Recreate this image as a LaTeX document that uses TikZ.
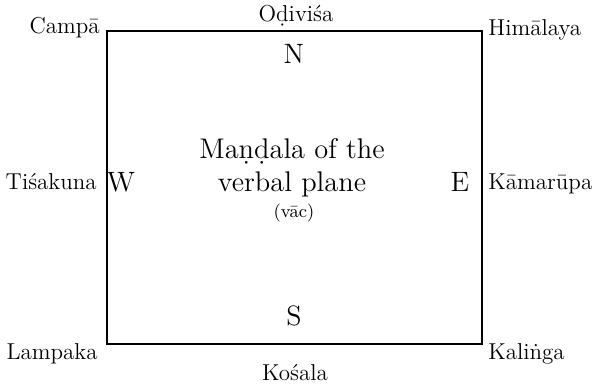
\documentclass[tikz,border=0pt]{standalone}
\usepackage{tikz}

\begin{document}
\begin{tikzpicture}[x=0.5pt, y=-0.5pt,
  frame/.style={draw, line width=1pt},
  place/.style={font=\fontsize{11.5}{13}\selectfont, inner sep=0pt},
  dir/.style={font=\fontsize{14}{16}\selectfont, inner sep=0pt},
  title/.style={font=\fontsize{14.2}{16}\selectfont, inner sep=0pt}
]

\useasboundingbox (0,0) rectangle (595,388);

% square of the mandala
\coordinate (nw) at (107,31);
\coordinate (se) at (482,344);
\draw[frame] (nw) rectangle (se);

% places at the corners
\node[place, anchor=base east] (campa)    at (100,33)  {Campā};
\node[place, anchor=base west] (himalaya) at (488,35)  {Himālaya};
\node[place, anchor=base east] (lampaka)  at (98,359)  {Lampaka};
\node[place, anchor=base west] (kalinga)  at (488,359) {Kaliṅga};

% places at the sides
\node[place, anchor=base] (odivisa)  at (296,21)  {Oḍiviśa};
\node[place, anchor=base] (kosala)   at (295,380) {Kośala};
\node[place, anchor=base east] (tisakuna) at (97,189)  {Tiśakuna};
\node[place, anchor=base west] (kamarupa) at (488,189) {Kāmarūpa};

% directions
\node[dir, anchor=base] (north) at (294,63)  {N};
\node[dir, anchor=base] (south) at (294,325) {S};
\node[dir, anchor=base] (west)  at (121,191) {W};
\node[dir, anchor=base] (east)  at (460,191) {E};

% centre
\node[title, anchor=base] (title1) at (292,158) {Maṇḍala of the};
\node[title, anchor=base] (title2) at (292,191) {verbal plane};
\node[place, font=\fontsize{9}{11}\selectfont, anchor=base] (vac) at (294,217) {(vāc)};

\end{tikzpicture}
\end{document}
